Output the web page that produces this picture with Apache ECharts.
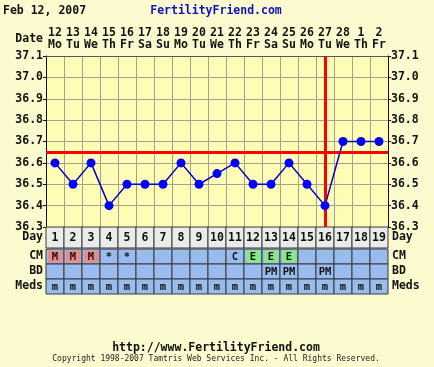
<!DOCTYPE html>
<html>
<head>
<meta charset="utf-8">
<script src="https://cdn.jsdelivr.net/npm/echarts@6/dist/echarts.min.js"></script>
<style>
html,body{margin:0;padding:0;background:#fcfbcf;}
#c{width:434px;height:367px;}
</style>
</head>
<body>
<div id="c"></div>
<script>
const days = ['1','2','3','4','5','6','7','8','9','10','11','12','13','14','15','16','17','18','19'];
const dateNums = ['12','13','14','15','16','17','18','19','20','21','22','23','24','25','26','27','28','1','2'];
const dayNames = ['Mo','Tu','We','Th','Fr','Sa','Su','Mo','Tu','We','Th','Fr','Sa','Su','Mo','Tu','We','Th','Fr'];
const temps = [36.6,36.5,36.6,36.4,36.5,36.5,36.5,36.6,36.5,36.55,36.6,36.5,36.5,36.6,36.5,36.4,36.7,36.7,36.7];
const cm   = ['M','M','M','*','*','','','','','','C','E','E','E','','','','',''];
const bd   = ['','','','','','','','','','','','','PM','PM','','PM','','',''];
const meds = ['m','m','m','m','m','m','m','m','m','m','m','m','m','m','m','m','m','m','m'];
const rowNames = ['CM','BD','Meds'];
const coverLine = 36.65;
const ovulationDay = '16';
const yTicks = [36.3, 37.1, 0.1];

const FONT = 'DejaVu Sans Mono';
const chart = echarts.init(document.getElementById('c'));

const dayRowData = days.map((d, i) => [i, 0, d]);
const tableData = [];
[cm, bd, meds].forEach((row, r) => row.forEach((t, i) => tableData.push([i, r, t])));

function cellRender(fillFn, fontSize) {
  return function (params, api) {
    const x = api.value(0), y = api.value(1);
    const c = api.coord([x, y]);
    const sz = api.size([1, 1]);
    const txt = api.value(2);
    const x0 = c[0] - sz[0] / 2, y0 = c[1] - sz[1] / 2;
    const fills = fillFn(txt);
    const children = [
      {type: 'rect', shape: {x: x0, y: y0, width: sz[0], height: sz[1]},
       style: {fill: fills[0], stroke: '#3a3a3a', lineWidth: 1}}
    ];
    if (fills[1]) {
      children.push({type: 'rect', shape: {x: x0 + 2, y: y0 + 1.5, width: sz[0] - 3.5, height: sz[1] - 3},
        style: {fill: fills[1]}});
    }
    children.push({type: 'text', style: {text: txt, x: c[0], y: c[1] + 0.5, align: 'center', verticalAlign: 'middle',
      font: 'bold ' + fontSize + 'px "' + FONT + '"', fill: '#111'}});
    return {type: 'group', children};
  };
}

const labelStyle = {fontFamily: FONT, fontWeight: 'bold', fontSize: 11.5, color: '#111'};

chart.setOption({
  backgroundColor: '#fcfbcf',
  animation: false,
  graphic: [
    {type: 'text', left: 3, top: 5, style: {text: 'Feb 12, 2007', font: 'bold 11.5px "' + FONT + '"', fill: '#111'}},
    {type: 'text', x: 216, y: 11, style: {text: 'FertilityFriend.com', font: 'bold 11.5px "' + FONT + '"', fill: '#1010c0', align: 'center', verticalAlign: 'middle'}},
    {type: 'text', x: 43, y: 39, style: {text: 'Date', font: 'bold 11.5px "' + FONT + '"', fill: '#111', align: 'right', verticalAlign: 'middle'}},
    {type: 'text', x: 216, y: 348, style: {text: 'http://www.FertilityFriend.com', font: 'bold 11.5px "' + FONT + '"', fill: '#111', align: 'center', verticalAlign: 'middle'}},
    {type: 'text', x: 216, y: 359, style: {text: 'Copyright 1998-2007 Tamtris Web Services Inc. - All Rights Reserved.', font: '8px "' + FONT + '"', fill: '#222', align: 'center', verticalAlign: 'middle'}}
  ],
  grid: [
    {left: 46, right: 46, top: 56, height: 171, backgroundColor: '#fffcb6', show: true, borderWidth: 0},
    {left: 46, right: 46, top: 227, height: 21},
    {left: 46, right: 46, top: 249, height: 45}
  ],
  xAxis: [
    {gridIndex: 0, type: 'category', data: days, position: 'top', boundaryGap: true,
     axisLine: {show: true, lineStyle: {color: '#555', width: 1}}, axisTick: {show: false},
     splitLine: {show: true, lineStyle: {color: '#a3a290', width: 1}},
     axisLabel: {interval: 0, margin: 5,
       formatter: (v, i) => '{n|' + dateNums[i] + '}\n{d|' + dayNames[i] + '}',
       rich: {n: Object.assign({lineHeight: 12}, labelStyle), d: Object.assign({lineHeight: 12}, labelStyle)}}},
    {gridIndex: 1, type: 'category', data: days, show: false},
    {gridIndex: 2, type: 'category', data: days, show: false}
  ],
  yAxis: [
    {gridIndex: 0, type: 'value', min: yTicks[0], max: yTicks[1], interval: yTicks[2], position: 'left',
     axisLine: {show: true, lineStyle: {color: '#111', width: 1}}, axisTick: {show: true, length: 3, lineStyle: {color: '#111'}},
     splitLine: {show: true, lineStyle: {color: '#a3a290', width: 1}},
     axisLabel: Object.assign({margin: 3, formatter: v => v.toFixed(1)}, labelStyle)},
    {gridIndex: 0, type: 'value', min: yTicks[0], max: yTicks[1], interval: yTicks[2], position: 'right',
     axisLine: {show: true, lineStyle: {color: '#111', width: 1}}, axisTick: {show: true, length: 3, lineStyle: {color: '#111'}},
     splitLine: {show: false},
     axisLabel: Object.assign({margin: 3, formatter: v => v.toFixed(1)}, labelStyle)},
    {gridIndex: 1, type: 'category', data: ['Day'], position: 'left', axisLine: {show: false}, axisTick: {show: false},
     axisLabel: Object.assign({margin: 3, interval: 0}, labelStyle)},
    {gridIndex: 1, type: 'category', data: ['Day'], position: 'right', axisLine: {show: false}, axisTick: {show: false},
     axisLabel: Object.assign({margin: 4, interval: 0}, labelStyle)},
    {gridIndex: 2, type: 'category', data: rowNames, inverse: true, position: 'left', axisLine: {show: false}, axisTick: {show: false},
     axisLabel: Object.assign({margin: 3, interval: 0}, labelStyle)},
    {gridIndex: 2, type: 'category', data: rowNames, inverse: true, position: 'right', axisLine: {show: false}, axisTick: {show: false},
     axisLabel: Object.assign({margin: 4, interval: 0}, labelStyle)}
  ],
  series: [
    {type: 'line', xAxisIndex: 0, yAxisIndex: 0, data: temps, symbol: 'circle', symbolSize: 9,
     itemStyle: {color: '#0000ff'}, lineStyle: {color: '#0000c0', width: 1.5}, z: 5,
     markLine: {silent: true, symbol: 'none', label: {show: false}, animation: false,
       lineStyle: {color: '#ff0000', width: 3, type: 'solid'},
       data: [{yAxis: coverLine}, {xAxis: days.indexOf(ovulationDay)}]}},
    {type: 'custom', xAxisIndex: 1, yAxisIndex: 2, data: dayRowData,
     renderItem: cellRender(() => ['#ebebeb', null], 11.5)},
    {type: 'custom', xAxisIndex: 2, yAxisIndex: 4, data: tableData,
     renderItem: cellRender(t => t === 'M' ? ['#99bbee', '#e88a8a'] : t === 'E' ? ['#99bbee', '#88e888'] : ['#99bbee', null], 10.5)}
  ]
});
</script>
</body>
</html>
